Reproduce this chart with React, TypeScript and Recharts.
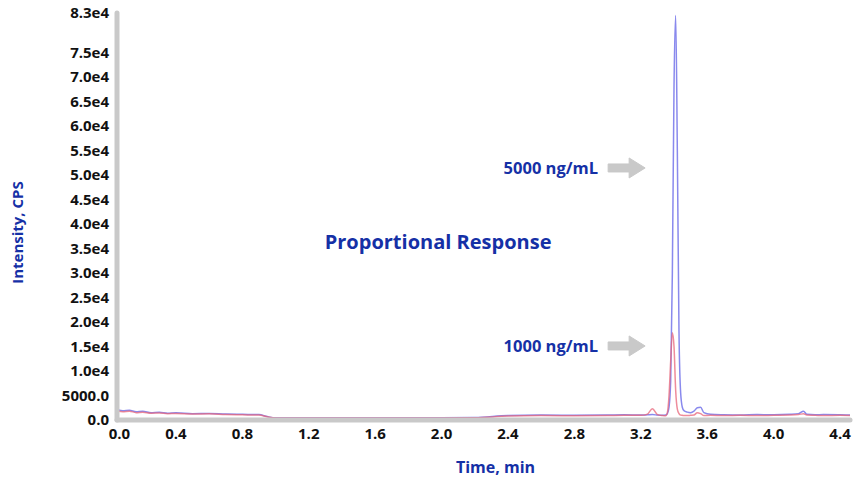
import { LineChart, Line, XAxis, YAxis, ReferenceDot, Label } from 'recharts';

// retention time, min
const times = [
  0.05, 0.08, 0.12, 0.16, 0.2, 0.25, 0.3, 0.35, 0.4, 0.5, 0.6, 0.7, 0.8, 0.9, 0.95, 1.0, 1.2, 1.4, 1.6,
  1.8, 2.0, 2.2, 2.4, 2.6, 2.8, 3.0, 3.1, 3.2, 3.24, 3.27, 3.3, 3.33, 3.35, 3.36, 3.37, 3.38, 3.39, 3.4,
  3.41, 3.42, 3.43, 3.44, 3.45, 3.46, 3.48, 3.5, 3.52, 3.54, 3.56, 3.58, 3.62, 3.7, 3.8, 3.9, 4.0, 4.1,
  4.15, 4.18, 4.2, 4.25, 4.3, 4.4, 4.46,
];
// 5000 ng/mL trace (cps)
const trace5000 = [
  2100, 1900, 2000, 1700, 1800, 1500, 1600, 1400, 1500, 1300, 1350, 1200, 1150, 1100, 700, 450, 450, 450,
  450, 450, 450, 500, 900, 1000, 950, 1000, 1050, 1000, 1050, 1100, 1000, 950, 1000, 1300, 2600, 8000,
  30000, 68000, 82500, 55000, 18000, 5500, 2600, 1900, 1600, 1500, 1800, 2500, 2600, 1500, 1150, 1050,
  1000, 1100, 1050, 1150, 1300, 1800, 1150, 1050, 1100, 1050, 1000,
];
// 1000 ng/mL trace (cps)
const trace1000 = [
  1800, 1700, 1800, 1500, 1600, 1400, 1450, 1300, 1350, 1200, 1250, 1100, 1050, 1000, 650, 400, 400, 400,
  400, 400, 400, 450, 800, 900, 850, 900, 950, 950, 1200, 2300, 1100, 900, 850, 1500, 5000, 12000, 17800,
  15000, 6000, 2200, 1300, 1000, 950, 900, 900, 950, 1000, 1500, 1300, 900, 950, 900, 950, 900, 950, 1000,
  1100, 1300, 1000, 950, 900, 950, 900,
];

const xTicks = [0.06, 0.4, 0.8, 1.2, 1.6, 2.0, 2.4, 2.8, 3.2, 3.6, 4.0, 4.4];
const xTickLabels = ['0.0', '0.4', '0.8', '1.2', '1.6', '2.0', '2.4', '2.8', '3.2', '3.6', '4.0', '4.4'];
const yTicks = [
  0, 5000, 10000, 15000, 20000, 25000, 30000, 35000, 40000, 45000, 50000, 55000, 60000, 65000, 70000,
  75000, 83000,
];
const yTickLabels = [
  '0.0', '5000.0', '1.0e4', '1.5e4', '2.0e4', '2.5e4', '3.0e4', '3.5e4', '4.0e4', '4.5e4', '5.0e4',
  '5.5e4', '6.0e4', '6.5e4', '7.0e4', '7.5e4', '8.3e4',
];

// annotation anchors (arrow tips), in data units
const arrowLabels = ['5000 ng/mL', '1000 ng/mL'];
const arrowTimes = [3.226, 3.226];
const arrowLevels = [51400, 15100];
const titlePos = { t: 1.979, cps: 36300 };

const BLUE_TEXT = '#1530a6';
const AXIS_GREY = '#c9c9c9';
const FONT = '"Open Sans", sans-serif';

const data = times.map((t, i) => ({ t, hi: trace5000[i], lo: trace1000[i] }));

function ArrowNote(props: any) {
  const { cx, cy, text } = props;
  const pts = [
    [cx - 37, cy - 4],
    [cx - 16, cy - 4],
    [cx - 16, cy - 10],
    [cx, cy],
    [cx - 16, cy + 10],
    [cx - 16, cy + 4],
    [cx - 37, cy + 4],
  ]
    .map((p) => p.join(','))
    .join(' ');
  return (
    <g>
      <text
        x={cx - 47}
        y={cy}
        dy="0.35em"
        textAnchor="end"
        fill={BLUE_TEXT}
        fontFamily={FONT}
        fontWeight={700}
        fontSize={16.5}
      >
        {text}
      </text>
      <polygon points={pts} fill={AXIS_GREY} stroke={AXIS_GREY} strokeLinejoin="round" strokeWidth={1} />
    </g>
  );
}

export default function App() {
  return (
    <div style={{ position: 'absolute', left: 0, top: 0, width: 856, height: 477, background: '#fff' }}>
      <LineChart width={856} height={477} data={data} margin={{ top: 13, right: 6, bottom: 0, left: 0 }}>
        <XAxis
          dataKey="t"
          type="number"
          domain={[0.045, 4.46]}
          ticks={xTicks}
          interval={0}
          tickFormatter={(_v: number, i: number) => xTickLabels[i]}
          tickLine={false}
          axisLine={{ stroke: AXIS_GREY, strokeWidth: 5, strokeLinecap: 'round' }}
          tick={{ fill: '#111', fontSize: 15, fontWeight: 700, fontFamily: FONT }}
          height={57}
          allowDataOverflow
        >
          <Label
            value="Time, min"
            position="insideBottom"
            offset={4}
            dx={12}
            style={{ fill: BLUE_TEXT, fontSize: 16, fontWeight: 700, fontFamily: FONT }}
          />
        </XAxis>
        <YAxis
          type="number"
          domain={[0, 83000]}
          ticks={yTicks}
          interval={0}
          tickFormatter={(_v: number, i: number) => yTickLabels[i]}
          tickLine={false}
          axisLine={{ stroke: AXIS_GREY, strokeWidth: 5, strokeLinecap: 'round' }}
          tick={{ fill: '#111', fontSize: 15, fontWeight: 700, fontFamily: FONT }}
          width={117}
          allowDataOverflow
        >
          <Label
            value="Intensity, CPS"
            angle={-90}
            position="insideLeft"
            offset={18}
            dy={16}
            style={{ textAnchor: 'middle', fill: BLUE_TEXT, fontSize: 15, fontWeight: 700, fontFamily: FONT }}
          />
        </YAxis>
        <Line
          dataKey="hi"
          stroke="#6b6be8"
          strokeWidth={1.5}
          strokeOpacity={0.8}
          dot={false}
          type="monotone"
          isAnimationActive={false}
        />
        <Line
          dataKey="lo"
          stroke="#e8667a"
          strokeWidth={1.5}
          strokeOpacity={0.75}
          dot={false}
          type="monotone"
          isAnimationActive={false}
        />
        {arrowLabels.map((txt, i) => (
          <ReferenceDot
            key={txt}
            x={arrowTimes[i]}
            y={arrowLevels[i]}
            ifOverflow="visible"
            shape={(p: any) => <ArrowNote {...p} text={txt} />}
          />
        ))}
        <ReferenceDot
          x={titlePos.t}
          y={titlePos.cps}
          ifOverflow="visible"
          shape={(p: any) => (
            <text
              x={p.cx}
              y={p.cy}
              dy="0.35em"
              textAnchor="middle"
              fill={BLUE_TEXT}
              fontFamily={FONT}
              fontWeight={700}
              fontSize={20}
            >
              Proportional Response
            </text>
          )}
        />
      </LineChart>
    </div>
  );
}
